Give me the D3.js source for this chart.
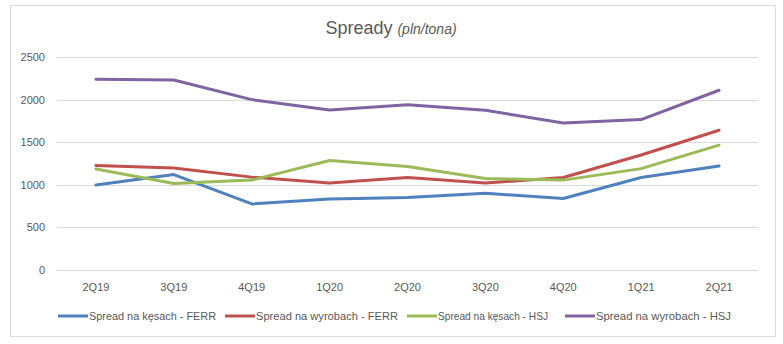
<!DOCTYPE html>
<html><head><meta charset="utf-8">
<script src="https://cdn.jsdelivr.net/npm/d3@7"></script>
<style>body{margin:0;background:#fff;}svg{display:block;font-family:"Liberation Sans",Arial,sans-serif;}</style>
</head><body><svg id="c" width="783" height="344"></svg>
<script>
const categories = ["2Q19","3Q19","4Q19","1Q20","2Q20","3Q20","4Q20","1Q21","2Q21"];
const kesachFerr = [998,1120,775,833,850,900,840,1085,1220];
const wyrobachFerr = [1227,1197,1090,1020,1085,1020,1085,1350,1640];
const kesachHsj = [1185,1015,1055,1285,1215,1075,1055,1190,1465];
const wyrobachHsj = [2240,2230,2000,1878,1940,1875,1725,1765,2110];
const yTicks = [0,500,1000,1500,2000,2500];
const seriesNames = ["Spread na kęsach - FERR","Spread na wyrobach - FERR","Spread na kęsach - HSJ","Spread na wyrobach - HSJ"];
const colors = ["#4F81BD","#C0504D","#9BBB59","#8064A2"];
const seriesData = [kesachFerr, wyrobachFerr, kesachHsj, wyrobachHsj];

const svg = d3.select("#c");
svg.append("rect").attr("x",10.5).attr("y",5.5).attr("width",765).attr("height",331).attr("fill","#fff").attr("stroke","#d9d9d9");

const x = d3.scaleBand().domain(categories).range([57,758]);
const y = d3.scaleLinear().domain([0,2500]).range([270,57]);

svg.append("g").selectAll("line").data(yTicks).join("line")
  .attr("x1",57).attr("x2",758).attr("y1",d=>Math.round(y(d))+0.5).attr("y2",d=>Math.round(y(d))+0.5)
  .attr("stroke","#d9d9d9").attr("stroke-width",1);

svg.append("g").selectAll("text").data(yTicks).join("text")
  .attr("x",45).attr("y",d=>y(d)+4).attr("text-anchor","end")
  .attr("font-size",11).attr("fill","#595959").text(d=>d);

svg.append("g").selectAll("text").data(categories).join("text")
  .attr("x",d=>x(d)+x.bandwidth()/2).attr("y",291).attr("text-anchor","middle")
  .attr("font-size",11).attr("fill","#595959").text(d=>d);

const line = d3.line().x((d,i)=>x(categories[i])+x.bandwidth()/2).y(d=>y(d));
seriesData.forEach((s,k)=>{
  svg.append("path").datum(s).attr("d",line).attr("fill","none")
    .attr("stroke",colors[k]).attr("stroke-width",3).attr("stroke-linejoin","round").attr("stroke-linecap","round");
});

const title = svg.append("text").attr("x",391).attr("y",34).attr("text-anchor","middle").attr("fill","#595959");
title.append("tspan").attr("font-size",18).text("Spready ");
title.append("tspan").attr("font-size",14).attr("font-style","italic").text("(pln/tona)");

const legX = [58,225,407,565];
const legW = [127,142,110,135];
seriesNames.forEach((n,k)=>{
  svg.append("line").attr("x1",legX[k]).attr("x2",legX[k]+30).attr("y1",316).attr("y2",316)
    .attr("stroke",colors[k]).attr("stroke-width",3);
  svg.append("text").attr("x",legX[k]+31).attr("y",320).attr("font-size",11).attr("fill","#595959")
    .attr("textLength",legW[k]).attr("lengthAdjust","spacingAndGlyphs").text(n);
});
</script></body></html>
